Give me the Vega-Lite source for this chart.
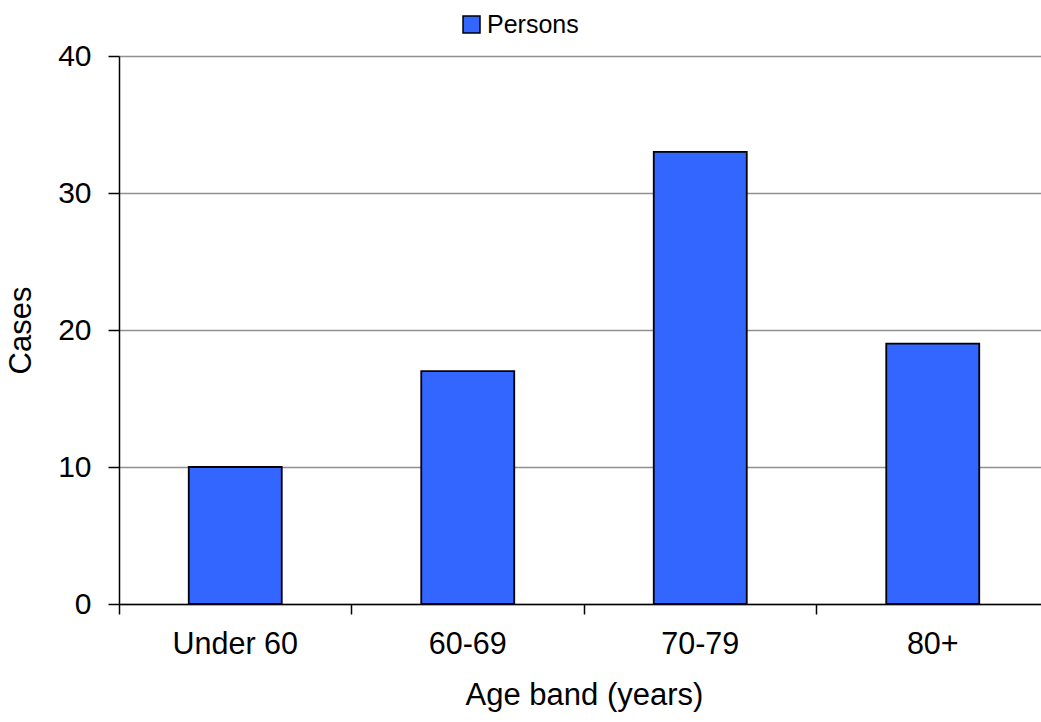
{
  "$schema": "https://vega.github.io/schema/vega-lite/v6.json",
  "width": 922,
  "height": 548,
  "autosize": {"type": "none"},
  "padding": {"left": 119, "top": 56, "right": 0, "bottom": 118},
  "background": "white",
  "config": {
    "view": {"stroke": null},
    "font": "Liberation Sans"
  },
  "data": {
    "values": [
      {"age": "Under 60", "cases": 10, "series": "Persons"},
      {"age": "60-69", "cases": 17, "series": "Persons"},
      {"age": "70-79", "cases": 33, "series": "Persons"},
      {"age": "80+", "cases": 19, "series": "Persons"}
    ]
  },
  "mark": {"type": "bar", "stroke": "black", "strokeWidth": 1.8},
  "encoding": {
    "x": {
      "field": "age",
      "type": "nominal",
      "sort": ["Under 60", "60-69", "70-79", "80+"],
      "scale": {"range": [0, 930], "paddingInner": 0.6, "paddingOuter": 0.3},
      "axis": {
        "title": "Age band (years)",
        "labelAngle": 0,
        "labelFontSize": 30.5,
        "labelColor": "black",
        "labelPadding": 15,
        "titleFontSize": 31,
        "titleFontWeight": "normal",
        "titleColor": "black",
        "titlePadding": 21,
        "titleX": 465,
        "domainColor": "black",
        "domainWidth": 1.5,
        "tickColor": "black",
        "tickWidth": 1.5,
        "tickSize": 10,
        "bandPosition": -0.75,
        "grid": false
      }
    },
    "y": {
      "field": "cases",
      "type": "quantitative",
      "scale": {"domain": [0, 40]},
      "axis": {
        "title": "Cases",
        "values": [0, 10, 20, 30, 40],
        "labelFontSize": 30,
        "labelColor": "black",
        "labelPadding": 17,
        "titleFontSize": 31,
        "titleFontWeight": "normal",
        "titleColor": "black",
        "titlePadding": 20,
        "domainColor": "black",
        "domainWidth": 1.5,
        "tickColor": "black",
        "tickWidth": 1.5,
        "tickSize": 11,
        "grid": true,
        "gridColor": "#909090",
        "gridWidth": 1.5
      }
    },
    "color": {
      "field": "series",
      "type": "nominal",
      "scale": {"range": ["#3366FF"]},
      "legend": {
        "title": null,
        "orient": "none",
        "legendX": 340,
        "legendY": -44,
        "symbolType": "square",
        "symbolSize": 289,
        "symbolStrokeColor": "black",
        "symbolStrokeWidth": 1.5,
        "symbolFillColor": "#3366FF",
        "labelFontSize": 25,
        "labelColor": "black",
        "labelOffset": 3
      }
    }
  }
}
